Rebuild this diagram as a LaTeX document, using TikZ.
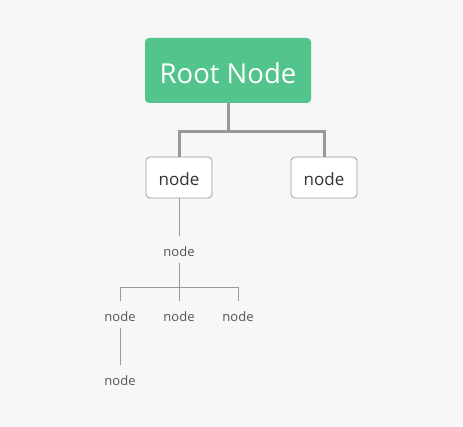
\documentclass[tikz,border=0pt]{standalone}
\usepackage{fontspec}
\setmainfont{Open Sans}
\definecolor{bg}{HTML}{F7F7F7}
\definecolor{rootgreen}{HTML}{52C48C}
\definecolor{linegray}{HTML}{999999}
\definecolor{boxgray}{HTML}{9A9A9A}
\definecolor{txtdark}{HTML}{333333}
\definecolor{txtsmall}{HTML}{555555}
\newcommand{\lowertext}[2]{\raisebox{-#1}[\height][\depth]{#2}}
\begin{document}
\begin{tikzpicture}[x=1pt,y=-1pt,
  rootbox/.style={fill=rootgreen,rounded corners=4pt,minimum width=166pt,minimum height=65pt,inner sep=0pt,text=white,font=\fontsize{27.5}{30}\selectfont},
  childbox/.style={draw=boxgray,fill=white,line width=0.8pt,rounded corners=4pt,minimum width=66pt,minimum height=41pt,inner sep=0pt,text=txtdark,font=\fontsize{17}{20}\selectfont},
  plain/.style={inner sep=0pt,text=txtsmall,font=\fontsize{13}{15}\selectfont},
  thick conn/.style={draw=linegray,line width=3pt},
  thin conn/.style={draw=linegray,line width=1pt}]
\fill[bg] (0,0) rectangle (463,427);
\useasboundingbox (0,0) rectangle (463,427);
\node[rootbox] (root) at (228,70.5) {\lowertext{2.5pt}{Root Node}};
\node[childbox] (c1) at (179,177.5) {\lowertext{2pt}{node}};
\node[childbox] (c2) at (324,177.5) {\lowertext{2pt}{node}};
\node[plain] (n1) at (179,252) {node};
\node[plain] (n2) at (120,317) {node};
\node[plain] (n3) at (179,317) {node};
\node[plain] (n4) at (238,317) {node};
\node[plain] (n5) at (120,381) {node};
\coordinate (j1) at (228,132);
\coordinate (t1) at (179,236);
\coordinate (s1) at (179,263);
\coordinate (j2) at (179,288);
\coordinate (d2) at (120,301);
\coordinate (d3) at (179,301);
\coordinate (d4) at (238,301);
\coordinate (s2) at (120,328);
\coordinate (t5) at (120,365);
\draw[thick conn] (root.south) -- (j1);
\draw[thick conn] (j1) -| (c1.north);
\draw[thick conn] (j1) -| (c2.north);
\draw[thin conn] (c1.south) -- (t1);
\draw[thin conn] (s1) -- (j2);
\draw[thin conn] (j2) -| (d2);
\draw[thin conn] (j2) -| (d4);
\draw[thin conn] (j2) -- (d3);
\draw[thin conn] (s2) -- (t5);
\end{tikzpicture}
\end{document}
